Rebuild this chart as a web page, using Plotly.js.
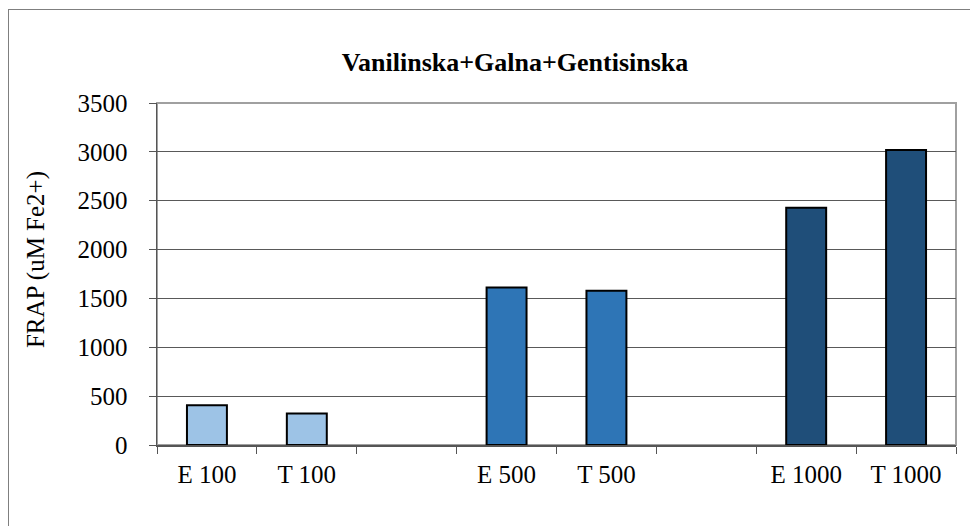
<!DOCTYPE html>
<html>
<head>
<meta charset="utf-8">
<script src="https://cdn.plot.ly/plotly-3.0.1.min.js"></script>
<style>
  html, body { margin: 0; padding: 0; background: #ffffff; }
  #frame { position: absolute; left: 8px; top: 9px; width: 1000px; height: 600px;
           border-top: 1.5px solid #7f7f7f; border-left: 1.5px solid #7f7f7f; }
  #chart { position: absolute; left: 0; top: 0; width: 970px; height: 526px; }
</style>
</head>
<body>
<div id="frame"></div>
<div id="chart"></div>
<script>
// Data
const categories = ['E 100', 'T 100', ' ', 'E 500', 'T 500', '  ', 'E 1000', 'T 1000'];
const frapValues = [408, 322, null, 1612, 1578, null, 2429, 3020];
const barColors = ['#9DC3E6', '#9DC3E6', '#ffffff', '#2E75B6', '#2E75B6', '#ffffff', '#1F4E79', '#1F4E79'];
const yTicks = [0, 500, 1000, 1500, 2000, 2500, 3000, 3500];
const chartTitle = 'Vanilinska+Galna+Gentisinska';
const yTitle = 'FRAP (uM Fe2+)';

const font = 'Times New Roman';

const trace = {
  type: 'bar',
  x: categories,
  y: frapValues,
  marker: { color: barColors, line: { color: '#000000', width: 2 } },
  hoverinfo: 'x+y'
};

const layout = {
  width: 970, height: 526,
  margin: { l: 157, r: 14, t: 102.5, b: 80.5 },
  paper_bgcolor: 'rgba(0,0,0,0)',
  plot_bgcolor: '#ffffff',
  showlegend: false,
  bargap: 0.6,
  font: { family: font, color: '#000000', size: 25 },
  title: {
    text: '<b>' + chartTitle + '</b>',
    font: { family: 'serif', size: 26, color: '#000000' },
    xref: 'container', yref: 'container',
    x: 515 / 970, y: 1 - 62 / 526, xanchor: 'center', yanchor: 'middle'
  },
  xaxis: {
    type: 'category',
    categoryorder: 'array', categoryarray: categories,
    tickson: 'boundaries',
    ticks: 'outside', ticklen: 7, tickcolor: '#555555', tickwidth: 1,
    showline: true, linecolor: '#555555', linewidth: 1.5,
    showgrid: false, zeroline: false,
    tickfont: { family: font, size: 25, color: '#000000' },
    ticklabelstandoff: 6
  },
  yaxis: {
    range: [0, 3500],
    tickvals: yTicks,
    ticktext: yTicks.map(String),
    ticks: 'outside', ticklen: 7, tickcolor: '#555555', tickwidth: 1,
    showline: true, linecolor: '#555555', linewidth: 1.5,
    showgrid: true, gridcolor: '#595959', gridwidth: 1,
    zeroline: false,
    tickfont: { family: 'serif', size: 25, color: '#000000' },
    ticklabelstandoff: 16
  },
  shapes: [
    { type: 'rect', xref: 'paper', yref: 'paper', x0: 0, x1: 1, y0: 0, y1: 1,
      line: { color: '#a0a0a0', width: 2 }, layer: 'below' }
  ],
  annotations: [
    { text: yTitle, xref: 'paper', yref: 'paper', x: (36 - 157) / 799, y: (445.5 - 260) / 343,
      xanchor: 'center', yanchor: 'middle', textangle: -90, showarrow: false,
      font: { family: font, size: 25, color: '#000000' } }
  ]
};

Plotly.newPlot('chart', [trace], layout, { displayModeBar: false, staticPlot: true });
</script>
</body>
</html>
